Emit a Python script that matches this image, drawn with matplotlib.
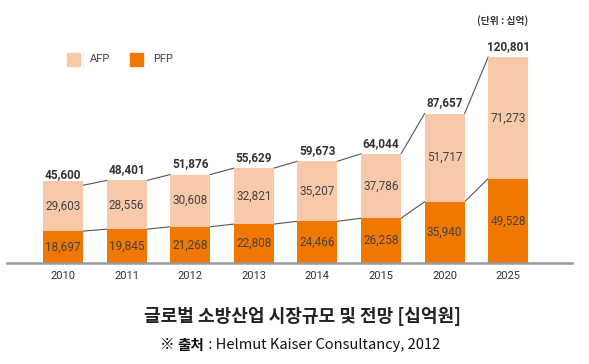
import matplotlib
matplotlib.use("Agg")
import matplotlib.pyplot as plt
import numpy as np
from matplotlib.patches import Rectangle

years = ["2010", "2011", "2012", "2013", "2014", "2015", "2020", "2025"]
pfp = [18697, 19845, 21268, 22808, 24466, 26258, 35940, 49528]
afp = [29603, 28556, 30608, 32821, 35207, 37786, 51717, 71273]
total = [45600, 48401, 51876, 55629, 59673, 64044, 87657, 120801]

c_afp = "#F8C9A8"
c_pfp = "#F07800"
num_font = ["Roboto", "Noto Sans CJK KR"]
kr_font = ["Noto Sans CJK KR", "DejaVu Sans"]

W, H = 589, 364
fig = plt.figure(figsize=(W / 100, H / 100), dpi=100)

# axes placed in pixel terms: x from 7 to 572, baseline at y=263, top at y=40
ax = fig.add_axes([7 / W, (H - 263) / H, 565 / W, 223 / H])
x = np.arange(len(years))
width = 0.63
ax.bar(x, pfp, width=width, color=c_pfp, zorder=2)
ax.bar(x, afp, width=width, bottom=pfp, color=c_afp, zorder=2)
ax.set_xlim(-0.8805, 8.003)
ax.set_ylim(0, 130800)

# connector lines between bars
for i in range(len(x) - 1):
    x0 = x[i] + width / 2
    x1 = x[i + 1] - width / 2
    ax.plot([x0, x1], [total[i], total[i + 1]], color="#555555", lw=0.8, zorder=1)
    ax.plot([x0, x1], [pfp[i], pfp[i + 1]], color="#555555", lw=0.8, zorder=1)

for i in range(len(x)):
    ax.annotate(f"{total[i]:,}", (x[i], total[i]), xytext=(0, 3), textcoords="offset points",
                ha="center", va="bottom", fontsize=8.5, fontweight="bold", color="#333333",
                family=num_font)
    ax.text(x[i], pfp[i] + afp[i] / 2, f"{afp[i]:,}", ha="center", va="center",
            fontsize=8.5, color="#444444", family=num_font)
    ax.text(x[i], pfp[i] / 2, f"{pfp[i]:,}", ha="center", va="center",
            fontsize=8.5, color="#444444", family=num_font)

for s in ["top", "right", "left"]:
    ax.spines[s].set_visible(False)
ax.spines["bottom"].set_color("#9a9a9a")
ax.spines["bottom"].set_linewidth(1.8)
ax.set_yticks([])
ax.set_xticks(x)
ax.set_xticklabels(years, fontsize=8, color="#333333", family=num_font)
ax.tick_params(axis="x", length=0, pad=6)

# legend
def px(xp, yp):
    return xp / W, 1 - yp / H

for xs, col, lab in [(67, c_afp, "AFP"), (130, c_pfp, "PFP")]:
    fig.patches.append(Rectangle(px(xs, 66), 13 / W, 13 / H, transform=fig.transFigure,
                                 color=col, figure=fig))
    fig.text(*px(xs + 23, 59.5), lab, fontsize=8, color="#444444", va="center",
             family=num_font)

fig.text(*px(503, 21), "(단위 : 십억)", fontsize=7, color="#333333", ha="center",
         va="center", family=kr_font, fontweight="bold")

fig.text(*px(302, 317), "글로벌 소방산업 시장규모 및 전망 [십억원]", fontsize=13,
         color="#222222", ha="center", va="center", family=kr_font, fontweight="bold")

# subtitle with bold part, laid out piece by piece
parts = [("※ ", "normal"), ("출처", "bold"), (" : Helmut Kaiser Consultancy, 2012", "normal")]
fig.canvas.draw()
r = fig.canvas.get_renderer()
texts = []
for s, wgt in parts:
    t = fig.text(0, 1 - 345 / H, s, fontsize=10.5, color="#111111", va="center",
                 family=kr_font, fontweight=wgt)
    texts.append(t)
widths = [t.get_window_extent(r).width for t in texts]
start = 300 - sum(widths) / 2
for t, w in zip(texts, widths):
    t.set_x(start / W)
    start += w

fig.savefig("out.png", dpi=100)
